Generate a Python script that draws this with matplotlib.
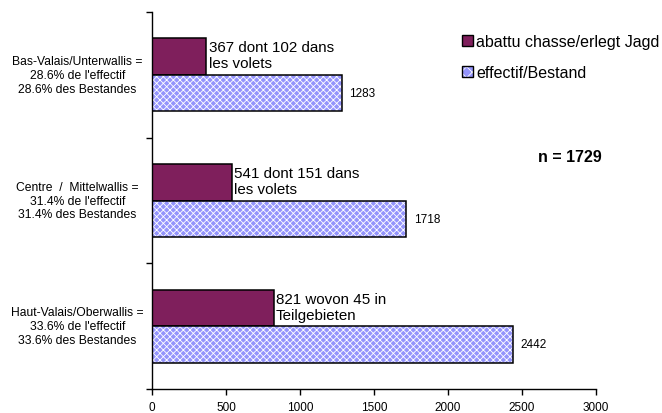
import numpy as np
import matplotlib
matplotlib.use("Agg")
from matplotlib import pyplot as plt
from matplotlib.patches import Patch
from matplotlib.legend_handler import HandlerTuple

plt.rcParams['font.family'] = ['Liberation Sans', 'DejaVu Sans']
plt.rcParams['hatch.linewidth'] = 0.6

regions = ["Bas-Valais/Unterwallis =\n28.6% de l'effectif\n28.6% des Bestandes",
           "Centre  /  Mittelwallis =\n31.4% de l'effectif\n31.4% des Bestandes",
           "Haut-Valais/Oberwallis =\n33.6% de l'effectif\n33.6% des Bestandes"]
shot = [367, 541, 821]
stock = [1283, 1718, 2442]
shotNotes = ["367 dont 102 dans\nles volets",
             "541 dont 151 dans\nles volets",
             "821 wovon 45 in\nTeilgebieten"]
xTicks = [0, 500, 1000, 1500, 2000, 2500, 3000]

purple = '#7f1f5c'
blue = '#9494fc'

fig = plt.figure(figsize=(6.62, 4.14), dpi=100)
ax = fig.add_axes([0.2296, 0.058, 0.6707, 0.9105])

pos = np.arange(len(regions))
h = 0.29
ax.barh(pos - h / 2, shot, height=h, color=purple, edgecolor='black', linewidth=1.1)
# hatched fill first, then a black outline on top
ax.barh(pos + h / 2, stock, height=h, color=blue, edgecolor='white', linewidth=0, hatch='xxxxx')
ax.barh(pos + h / 2, stock, height=h, fill=False, edgecolor='black', linewidth=1.1)

for i in range(len(regions)):
    ax.text(shot[i] + 15, pos[i] - h / 2 - 0.01, shotNotes[i], fontsize=10.9, va='center', ha='left',
            linespacing=1.2)
    ax.text(stock[i] + 50, pos[i] + h / 2, str(stock[i]), fontsize=8.5, va='center', ha='left')

ax.set_ylim(2.5, -0.5)
ax.set_xlim(0, 3000)
ax.set_xticks(xTicks)
ax.set_xticklabels([str(t) for t in xTicks], fontsize=8.5)
ax.set_yticks([-0.5, 0.5, 1.5, 2.5])
ax.set_yticklabels([])
ax.tick_params(axis='y', length=4, width=1, direction='out')
ax.tick_params(axis='x', length=4, width=1, direction='out', pad=5)
for sp in ['top', 'right']:
    ax.spines[sp].set_visible(False)
for sp in ['left', 'bottom']:
    ax.spines[sp].set_linewidth(1.0)

for i, lab in enumerate(regions):
    ax.text(-0.168, pos[i], lab, transform=ax.get_yaxis_transform(), fontsize=8.7,
            ha='center', va='center', linespacing=1.2)

hatchFill = Patch(facecolor=blue, edgecolor='white', hatch='xxx', linewidth=0)
outline = Patch(fill=False, edgecolor='black', linewidth=1)
handles = [Patch(facecolor=purple, edgecolor='black', linewidth=1), (hatchFill, outline)]
leg = fig.legend(handles, ["abattu chasse/erlegt Jagd", "effectif/Bestand"],
                 loc='upper left', bbox_to_anchor=(0.688, 0.93), frameon=False,
                 fontsize=11.5, handlelength=0.7, handleheight=0.7, handletextpad=0.2,
                 labelspacing=1.0, borderaxespad=0,
                 handler_map={tuple: HandlerTuple(ndivide=1, pad=0)})

fig.text(0.812, 0.62, "n = 1729", fontsize=11.5, fontweight='bold', ha='left', va='center')

fig.savefig('out.png', dpi=100)
